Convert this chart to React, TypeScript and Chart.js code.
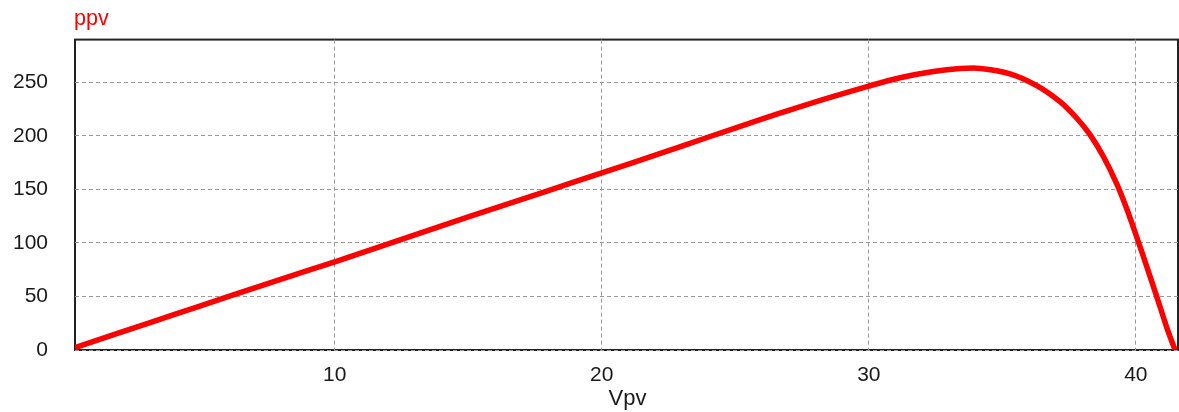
import { useEffect, useRef } from "react";
import { Chart, registerables } from "chart.js";

Chart.register(...registerables);

const vpv = [0.27, 2, 4, 6, 8, 10, 12, 14, 16, 18, 20, 22, 24, 25.93, 27.18, 28.43, 30, 31.17, 32.42, 33.42, 34.17, 35.29, 36.29, 37.16, 37.79, 38.29, 38.79, 39.29, 39.66, 40.0, 40.41, 40.79, 41.16, 41.47];
const ppv = [2.2, 16.6, 33.2, 49.8, 66.3, 82.4, 99.2, 116, 132.6, 149, 165.5, 182, 199, 215.2, 225.3, 235.1, 246.6, 254.4, 260.2, 262.9, 263.1, 258, 247, 232, 216.5, 201, 180.5, 155, 132, 108, 78, 49.5, 21, 0];
const xTicks = [10, 20, 30, 40];
const yTicks = [0, 50, 100, 150, 200, 250];
const seriesLabel = "ppv";
const xTitle = "Vpv";

const FONT = "'Liberation Sans', Arial, sans-serif";

const framePlugin = {
  id: "frame",
  beforeDraw(chart: any) {
    const { ctx, chartArea: a } = chart;
    ctx.save();
    ctx.strokeStyle = "#222";
    ctx.lineWidth = 2;
    ctx.strokeRect(a.left, a.top, a.right - a.left, a.bottom - a.top);
    ctx.restore();
  },
  afterDraw(chart: any) {
    const { ctx, chartArea: a } = chart;
    ctx.save();
    ctx.fillStyle = "#ff0000";
    ctx.font = `21.5px ${FONT}`;
    ctx.textAlign = "left";
    ctx.textBaseline = "alphabetic";
    ctx.fillText(seriesLabel, 74, 25);
    ctx.fillStyle = "#1a1a1a";
    ctx.font = `22px ${FONT}`;
    ctx.textAlign = "center";
    ctx.fillText(xTitle, (a.left + a.right) / 2 + 1, 405);
    ctx.restore();
  },
};

export default function App() {
  const ref = useRef<HTMLCanvasElement>(null);
  useEffect(() => {
    const chart = new Chart(ref.current!, {
      type: "line",
      data: {
        datasets: [
          {
            label: seriesLabel,
            data: vpv.map((x, i) => ({ x, y: ppv[i] })),
            borderColor: "#ff0000",
            backgroundColor: "#ff0000",
            borderWidth: 5.5,
            pointRadius: 0,
            tension: 0.3,
            fill: false,
          },
        ],
      },
      options: {
        responsive: false,
        animation: false,
        devicePixelRatio: 1,
        layout: { padding: { top: 39, right: 1, left: 0, bottom: 0 } },
        plugins: { legend: { display: false }, tooltip: { enabled: false } },
        scales: {
          x: {
            type: "linear",
            min: 0.27,
            max: 41.58,
            afterBuildTicks: (s: any) => {
              s.ticks = xTicks.map((v) => ({ value: v }));
            },
            afterFit: (s: any) => {
              s.height = 62;
            },
            grid: { color: "#999", lineWidth: 1, drawTicks: false },
            border: { display: false, dash: [4, 3] },
            ticks: {
              padding: 13,
              color: "#1a1a1a",
              font: { family: FONT, size: 21 },
              maxRotation: 0,
              autoSkip: false,
            },
          },
          y: {
            type: "linear",
            min: 0,
            max: 290,
            afterBuildTicks: (s: any) => {
              s.ticks = yTicks.map((v) => ({ value: v }));
            },
            afterFit: (s: any) => {
              s.width = 75;
            },
            grid: { color: "#999", lineWidth: 1, drawTicks: false },
            border: { display: false, dash: [4, 3] },
            ticks: {
              padding: 27,
              color: "#1a1a1a",
              font: { family: FONT, size: 21 },
              autoSkip: false,
            },
          },
        },
      },
      plugins: [framePlugin],
    } as any);
    return () => chart.destroy();
  }, []);
  return (
    <div style={{ position: "fixed", left: 0, top: 0, width: 1179, height: 412, background: "#fff" }}>
      <canvas ref={ref} width={1179} height={412} style={{ display: "block" }} />
    </div>
  );
}
